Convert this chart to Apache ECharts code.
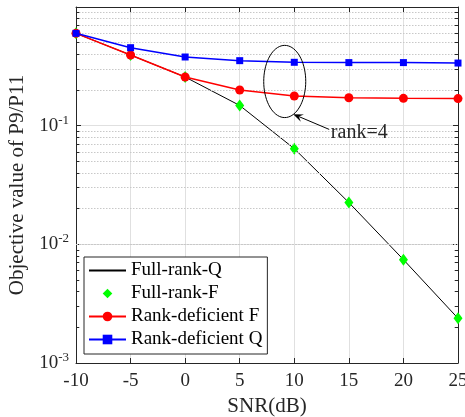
<!DOCTYPE html>
<html>
<head>
<meta charset="utf-8">
<script src="https://cdn.jsdelivr.net/npm/echarts@6/dist/echarts.min.js"></script>
<style>
html, body { margin: 0; padding: 0; background: #fff; }
#main { width: 465px; height: 417px; }
</style>
</head>
<body>
<div id="main"></div>
<script>
// data
var snr = [-10, -5, 0, 5, 10, 15, 20, 25]
var fullRankQ = [0.6, 0.394, 0.257, 0.148, 0.064, 0.0225, 0.00743, 0.00238]
var fullRankF = [0.6, 0.394, 0.257, 0.148, 0.064, 0.0225, 0.00743, 0.00238]
var rankDefF = [0.6, 0.394, 0.257, 0.2, 0.178, 0.172, 0.17, 0.169]
var rankDefQ = [0.6, 0.454, 0.379, 0.353, 0.342, 0.34, 0.34, 0.337]
var names = ["Full-rank-Q", "Full-rank-F", "Rank-deficient F", "Rank-deficient Q"]

// annotation (data coords)
var ellipseBox = [[7.2, 0.117], [11.05, 0.475]]
var arrowFrom = [13.2, 0.093]
var arrowTo = [9.9, 0.125]
var noteText = "rank=4"
var notePos = [13.35, 0.088]

// log minor grid positions
var minorTicks = []
;[0.001, 0.01, 0.1].forEach(function (d) {
  for (var m = 2; m <= 9; m++) minorTicks.push(+(m * d).toPrecision(3))
})

var font = "Liberation Serif, Times New Roman, serif"
var axisColor = "#262626"

function pairs(ys) {
  return snr.map(function (x, i) { return [x, ys[i]] })
}

// minor grid lines + short minor ticks on both y axes
var minorLines = minorTicks.map(function (v) { return { yAxis: v } })
var minorTickMarks = []
minorTicks.forEach(function (v) {
  minorTickMarks.push([{ coord: [-10, v] }, { coord: [-9.7, v] }])
  minorTickMarks.push([{ coord: [24.7, v] }, { coord: [25, v] }])
})

var myChart = echarts.init(document.getElementById("main"))

var option = {
  animation: false,
  textStyle: { fontFamily: font },
  grid: { left: 76, right: 7, top: 7, bottom: 54, outerBoundsMode: "none", containLabel: false },
  legend: {
    data: [
      { name: names[0], itemStyle: { opacity: 0 } },
      names[1], names[2], names[3]
    ],
    orient: "vertical",
    left: 84,
    top: 257,
    itemWidth: 37,
    itemHeight: 12,
    itemGap: 4,
    itemTextGap: 3,
    padding: [4, 5, 5, 4],
    borderColor: axisColor,
    borderWidth: 1,
    backgroundColor: "#fff",
    textStyle: { fontFamily: font, fontSize: 19, color: "#000", lineHeight: 19 }
  },
  xAxis: [
    {
      type: "value",
      min: -10,
      max: 25,
      interval: 5,
      name: "SNR(dB)",
      nameLocation: "middle",
      nameGap: 33,
      nameTextStyle: { fontFamily: font, fontSize: 21, color: "#262626" },
      axisLine: { onZero: false, lineStyle: { color: axisColor, width: 1 } },
      axisTick: { inside: true, length: 5, lineStyle: { color: axisColor } },
      axisLabel: { fontFamily: font, fontSize: 19, color: "#262626", margin: 9 },
      splitLine: { show: true, lineStyle: { color: "#e0e0e0", width: 1 } }
    },
    {
      type: "value",
      position: "top",
      min: -10,
      max: 25,
      interval: 5,
      axisLine: { onZero: false, lineStyle: { color: axisColor, width: 1 } },
      axisTick: { inside: true, length: 5, lineStyle: { color: axisColor } },
      axisLabel: { show: false },
      splitLine: { show: false }
    }
  ],
  yAxis: [
    {
      type: "log",
      logBase: 10,
      min: 0.001,
      max: 1,
      name: "Objective value of P9/P11",
      nameLocation: "middle",
      nameGap: 45,
      nameTextStyle: { fontFamily: font, fontSize: 21, color: "#262626" },
      axisLine: { onZero: false, lineStyle: { color: axisColor, width: 1 } },
      axisTick: { inside: true, length: 5, lineStyle: { color: axisColor } },
      axisLabel: {
        margin: 7,
        formatter: function (v) {
          if (v >= 1) return ""
          var e = Math.round(Math.log10(v))
          return "{b|10}{s|" + e + "}"
        },
        rich: {
          b: { fontFamily: font, fontSize: 19, color: "#262626" },
          s: { fontFamily: font, fontSize: 13, color: "#262626", padding: [0, 0, 11, 0] }
        }
      },
      splitLine: { show: true, lineStyle: { color: "#e0e0e0", width: 1 } }
    },
    {
      type: "log",
      logBase: 10,
      min: 0.001,
      max: 1,
      position: "right",
      axisLine: { show: true, onZero: false, lineStyle: { color: axisColor, width: 1 } },
      axisTick: { show: true, inside: true, length: 5, lineStyle: { color: axisColor } },
      axisLabel: { show: false },
      splitLine: { show: false }
    }
  ],
  series: [
    {
      name: "minor",
      type: "line",
      data: [],
      silent: true,
      z: 1,
      markLine: {
        silent: true,
        symbol: "none",
        label: { show: false },
        lineStyle: { color: "#c8c8c8", type: [1.5, 1.5], width: 1 },
        data: minorLines
      }
    },
    {
      name: "minorTicks",
      type: "line",
      data: [],
      silent: true,
      z: 2,
      markLine: {
        silent: true,
        symbol: "none",
        label: { show: false },
        lineStyle: { color: axisColor, type: "solid", width: 1 },
        data: minorTickMarks
      }
    },
    {
      name: names[0],
      type: "line",
      data: pairs(fullRankQ),
      symbol: "none",
      lineStyle: { color: "#000", width: 1 },
      itemStyle: { color: "#000" },
      z: 3
    },
    {
      name: names[1],
      type: "line",
      data: pairs(fullRankF),
      symbol: "diamond",
      symbolSize: [9, 12],
      lineStyle: { opacity: 0, width: 0 },
      itemStyle: { color: "#00ff00" },
      z: 4
    },
    {
      name: names[2],
      type: "line",
      data: pairs(rankDefF),
      symbol: "circle",
      symbolSize: 9,
      lineStyle: { color: "#ff0000", width: 1.5 },
      itemStyle: { color: "#ff0000" },
      z: 5
    },
    {
      name: names[3],
      type: "line",
      data: pairs(rankDefQ),
      symbol: "rect",
      symbolSize: 7,
      lineStyle: { color: "#0000ff", width: 1.5 },
      itemStyle: { color: "#0000ff" },
      z: 6
    },
    {
      name: "note",
      type: "custom",
      silent: true,
      z: 7,
      data: [0],
      renderItem: function (params, api) {
        var p1 = api.coord(ellipseBox[0])
        var p2 = api.coord(ellipseBox[1])
        var cx = (p1[0] + p2[0]) / 2, cy = (p1[1] + p2[1]) / 2
        var rx = Math.abs(p2[0] - p1[0]) / 2, ry = Math.abs(p2[1] - p1[1]) / 2
        var pts = []
        for (var i = 0; i <= 72; i++) {
          var t = i / 72 * Math.PI * 2
          pts.push([cx + rx * Math.cos(t), cy + ry * Math.sin(t)])
        }
        var a = api.coord(arrowFrom), b = api.coord(arrowTo)
        var ang = Math.atan2(b[1] - a[1], b[0] - a[0])
        var hl = 10, hw = 4
        var bx = b[0] - hl * Math.cos(ang), by = b[1] - hl * Math.sin(ang)
        var head = [
          b,
          [bx + hw * Math.sin(ang), by - hw * Math.cos(ang)],
          [b[0] - 0.6 * hl * Math.cos(ang), b[1] - 0.6 * hl * Math.sin(ang)],
          [bx - hw * Math.sin(ang), by + hw * Math.cos(ang)]
        ]
        var tp = api.coord(notePos)
        return {
          type: "group",
          children: [
            { type: "polyline", shape: { points: pts }, style: { stroke: "#000", lineWidth: 1, fill: null } },
            { type: "line", shape: { x1: a[0], y1: a[1], x2: b[0] - 0.6 * hl * Math.cos(ang), y2: b[1] - 0.6 * hl * Math.sin(ang) }, style: { stroke: "#000", lineWidth: 1 } },
            { type: "polygon", shape: { points: head }, style: { fill: "#000" } },
            { type: "text", x: tp[0], y: tp[1], style: { text: noteText, fontFamily: font, fontSize: 20, fill: "#262626", verticalAlign: "middle" } }
          ]
        }
      }
    }
  ]
}

myChart.setOption(option)
</script>
</body>
</html>
